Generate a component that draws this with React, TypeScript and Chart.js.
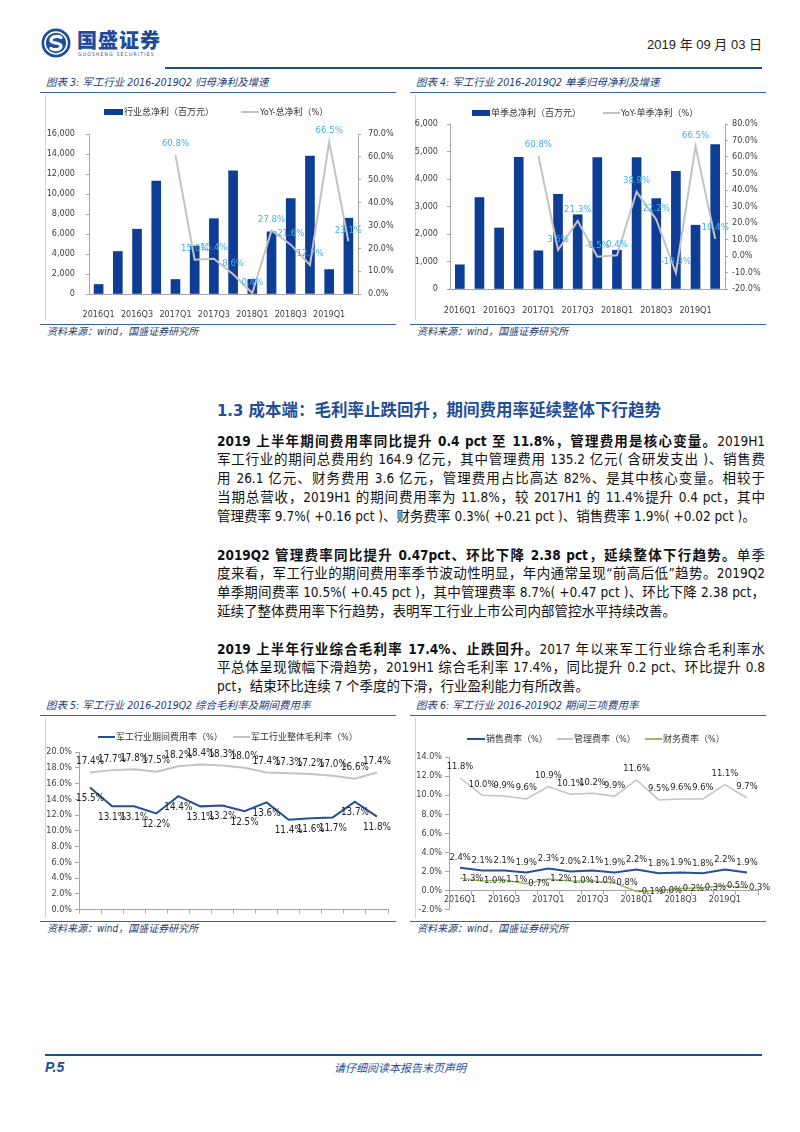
import React, { useEffect, useRef } from 'react';
import { Chart, registerables } from 'chart.js';

Chart.register(...registerables);

// ---------------- data ----------------
const quarters = ['2016Q1', '2016Q2', '2016Q3', '2016Q4', '2017Q1', '2017Q2', '2017Q3', '2017Q4', '2018Q1', '2018Q2', '2018Q3', '2018Q4', '2019Q1', '2019Q2'];

// 图表3 行业总净利（百万元，累计）与 YoY
const cumProfit = [950, 4250, 6480, 11280, 1450, 4800, 7530, 12320, 1460, 6220, 9540, 13780, 2440, 7580];
const cumProfitYoY = [null, null, null, null, 60.8, 15.0, 15.4, 8.6, 0.4, 27.8, 21.6, 12.7, 66.5, 23.1];

// 图表4 单季总净利（百万元）与 YoY
const qProfit = [880, 3320, 2220, 4790, 1390, 3440, 2700, 4780, 1410, 4780, 3290, 4280, 2320, 5250];
const qProfitYoY = [null, null, null, null, 60.8, 3.6, 21.3, -0.5, 0.4, 38.9, 22.2, -10.3, 66.5, 10.4];

// 图表5 期间费用率 / 整体毛利率 (%)
const expenseRate = [15.5, 13.1, 13.1, 12.2, 14.4, 13.1, 13.2, 12.5, 13.6, 11.4, 11.6, 11.7, 13.7, 11.8];
const grossMargin = [17.4, 17.7, 17.8, 17.5, 18.2, 18.4, 18.3, 18.0, 17.4, 17.3, 17.2, 17.0, 16.6, 17.4];

// 图表6 三项费用率 (%)
const sellingRate = [2.4, 2.1, 2.1, 1.9, 2.3, 2.0, 2.1, 1.9, 2.2, 1.8, 1.9, 1.8, 2.2, 1.9];
const adminRate = [11.8, 10.0, 9.9, 9.6, 10.9, 10.1, 10.2, 9.9, 11.6, 9.5, 9.6, 9.6, 11.1, 9.7];
const financeRate = [1.3, 1.0, 1.1, 0.7, 1.2, 1.0, 1.0, 0.8, -0.1, 0.0, 0.2, 0.3, 0.5, 0.3];

// ---------------- styles ----------------
const NUM = "'DejaVu Sans Condensed', 'Liberation Sans', 'Noto Sans CJK SC', sans-serif";
const CJK = "'Noto Sans CJK SC', sans-serif";
const BODY = "'DejaVu Sans Condensed', 'Liberation Sans', 'Noto Sans CJK SC', sans-serif";
const AXIS = '#a6a6a6';
const TXT = '#404040';
const NAVY = '#1f4e99';
const BAR = '#0e3d96';
const GRAY_LINE = '#c3c3c3';
const DARK_LINE = '#254f97';
const GREEN_LINE = '#9bbb59';
const CYAN = '#3fb2e8';

const tickFont = { family: NUM, size: 9 };
const pct1 = (v: any) => Number(v).toFixed(1) + '%';
const everyOther = (_v: any, i: number) => (i % 2 === 0 ? quarters[i] : '');

const valueLabelPlugin = {
  id: 'valueLabels',
  afterDatasetsDraw(chart: any) {
    const ctx = chart.ctx;
    chart.data.datasets.forEach((ds: any, di: number) => {
      const cfg = ds.valueLabel;
      if (!cfg) return;
      const meta = chart.getDatasetMeta(di);
      meta.data.forEach((el: any, i: number) => {
        const v = ds.data[i];
        if (v === null || v === undefined) return;
        ctx.save();
        ctx.font = `${cfg.size}px ${NUM}`;
        ctx.fillStyle = cfg.color;
        ctx.textBaseline = 'middle';
        let x = el.x;
        let y = el.y;
        if (cfg.pos === 'above') { ctx.textAlign = 'center'; y -= cfg.offset; }
        else if (cfg.pos === 'below') { ctx.textAlign = 'center'; y += cfg.offset; }
        else { ctx.textAlign = 'left'; x += cfg.offset; }
        ctx.fillText(pct1(v), x, y);
        ctx.restore();
      });
    });
  },
};

const fixW = (w: number) => (s: any) => { s.width = w; };
const fixH = (h: number) => (s: any) => { s.height = h; };

function yAxis(position: string, min: number, max: number, step: number, width: number, pad: number, fmt: (v: any) => string) {
  return {
    position, min, max,
    ticks: { stepSize: step, padding: pad, color: TXT, font: tickFont, callback: fmt },
    grid: { drawOnChartArea: false, tickLength: 3, tickColor: AXIS },
    border: { display: true, color: AXIS },
    afterFit: fixW(width),
  };
}

function barLineConfig(bars: number[], yoy: (number | null)[], barLabel: string, lineLabel: string, geo: any) {
  return {
    type: 'bar',
    data: {
      labels: quarters,
      datasets: [
        { type: 'line', label: lineLabel, data: yoy, yAxisID: 'y1', borderColor: GRAY_LINE, borderWidth: 2, pointRadius: 0, tension: 0, order: 0,
          valueLabel: { color: CYAN, size: 9.5, pos: 'above', offset: 11 } },
        { type: 'bar', label: barLabel, data: bars, yAxisID: 'y', backgroundColor: BAR, barThickness: 9, order: 1 },
      ],
    },
    options: {
      animation: false, responsive: false, maintainAspectRatio: false,
      layout: { padding: { top: geo.top, left: 0, right: 0, bottom: 0 } },
      plugins: { legend: { display: false }, tooltip: { enabled: false } },
      scales: {
        x: { grid: { display: false }, border: { display: true, color: AXIS },
          ticks: { autoSkip: false, maxRotation: 0, padding: geo.xPad, color: TXT, font: tickFont, callback: everyOther },
          afterFit: fixH(geo.xH) },
        y: yAxis('left', 0, geo.lMax, geo.lStep, geo.lW, geo.lPad, (v: any) => Number(v).toLocaleString('en-US')),
        y1: yAxis('right', geo.rMin, geo.rMax, 10, geo.rW, geo.rPad, pct1),
      },
    },
    plugins: [valueLabelPlugin],
  };
}

function chart3Config() {
  return barLineConfig(cumProfit, cumProfitYoY, '行业总净利（百万元）', 'YoY-总净利（%）',
    { top: 39, xPad: 7, xH: 26, lMax: 16000, lStep: 2000, lW: 44, lPad: 11, rMin: 0, rMax: 70, rW: 42, rPad: 7 });
}

function chart4Config() {
  return barLineConfig(qProfit, qProfitYoY, '单季总净利（百万元）', 'YoY-单季净利（%）',
    { top: 29, xPad: 8, xH: 31, lMax: 6000, lStep: 1000, lW: 35, lPad: 9, rMin: -20, rMax: 80, rW: 45, rPad: 4 });
}

function chart5Config() {
  return {
    type: 'line',
    data: {
      labels: quarters,
      datasets: [
        { label: '军工行业期间费用率（%）', data: expenseRate, borderColor: DARK_LINE, borderWidth: 2, pointRadius: 0, tension: 0,
          valueLabel: { color: '#222', size: 9.8, pos: 'below', offset: 11 } },
        { label: '军工行业整体毛利率（%）', data: grossMargin, borderColor: GRAY_LINE, borderWidth: 2, pointRadius: 0, tension: 0,
          valueLabel: { color: '#222', size: 9.8, pos: 'above', offset: 11 } },
      ],
    },
    options: {
      animation: false, responsive: false, maintainAspectRatio: false,
      layout: { padding: { top: 30, left: 0, right: 12, bottom: 0 } },
      plugins: { legend: { display: false }, tooltip: { enabled: false } },
      scales: {
        x: { offset: true, grid: { offset: true, drawOnChartArea: false, tickLength: 4, tickColor: AXIS },
          border: { display: true, color: AXIS },
          ticks: { autoSkip: false, display: true, callback: () => '' , font: tickFont },
          afterFit: fixH(8) },
        y: { ...yAxis('left', 0, 20, 2, 34, 3, pct1), grid: { drawOnChartArea: false, tickLength: 4, tickColor: AXIS } },
      },
    },
    plugins: [valueLabelPlugin],
  };
}

function chart6Config() {
  return {
    type: 'line',
    data: {
      labels: quarters,
      datasets: [
        { label: '销售费率（%）', data: sellingRate, borderColor: DARK_LINE, borderWidth: 2, pointRadius: 0, tension: 0,
          valueLabel: { color: '#222', size: 9.3, pos: 'above', offset: 10 } },
        { label: '管理费率（%）', data: adminRate, borderColor: GRAY_LINE, borderWidth: 1.5, pointRadius: 0, tension: 0,
          valueLabel: { color: '#222', size: 9.3, pos: 'above', offset: 11 } },
        { label: '财务费率（%）', data: financeRate, borderColor: GREEN_LINE, borderWidth: 1.5, pointRadius: 0, tension: 0,
          valueLabel: { color: '#222', size: 9.3, pos: 'right', offset: 2 } },
      ],
    },
    options: {
      animation: false, responsive: false, maintainAspectRatio: false,
      layout: { padding: { top: 35, left: 0, right: 12, bottom: 4 } },
      plugins: { legend: { display: false }, tooltip: { enabled: false } },
      scales: {
        x: { position: { y: 0 }, offset: true,
          grid: { offset: true, drawOnChartArea: false, tickLength: 4, tickColor: AXIS },
          border: { display: true, color: AXIS },
          ticks: { autoSkip: false, maxRotation: 0, padding: 0, color: TXT, font: tickFont, callback: everyOther },
          afterFit: fixH(0) },
        y: { ...yAxis('left', -2, 14, 2, 34, 3, pct1), grid: { drawOnChartArea: false, tickLength: 4, tickColor: AXIS } },
      },
    },
    plugins: [valueLabelPlugin],
  };
}

// ---------------- components ----------------
function ChartCanvas({ left, top, width, height, build }: any) {
  const ref = useRef<HTMLCanvasElement>(null);
  useEffect(() => {
    const chart = new Chart(ref.current as HTMLCanvasElement, build());
    return () => chart.destroy();
  }, []);
  return <canvas ref={ref} width={width} height={height} style={{ position: 'absolute', left, top, width, height }} />;
}

function Abs({ left, top, children, style }: any) {
  return <div style={{ position: 'absolute', left, top, whiteSpace: 'nowrap', ...style }}>{children}</div>;
}

function LegendItem({ left, cy, kind, color, text, swatchW }: any) {
  const h = kind === 'box' ? 6 : 2;
  return (
    <>
      <div style={{ position: 'absolute', left, top: cy - h / 2, width: swatchW, height: h, background: color }} />
      <div style={{ position: 'absolute', left: left + swatchW + 1, top: cy - 7, height: 14, lineHeight: '14px', fontFamily: NUM, fontSize: 9, color: '#333', whiteSpace: 'nowrap' }}>{text}</div>
    </>
  );
}

function Frame({ x, titleY, title, lineY, chartTop, chartBottom, srcLineY, srcY }: any) {
  return (
    <>
      <Abs left={x + 1} top={titleY - 8} style={{ fontFamily: NUM, fontStyle: 'italic', fontSize: 10.5, lineHeight: '16px', color: '#1e3a78' }}>{title}</Abs>
      <div style={{ position: 'absolute', left: x - 5, top: lineY, width: 356, height: 1.5, background: '#3b5ea6' }} />
      <div style={{ position: 'absolute', left: x, top: chartTop, width: 1, height: chartBottom - chartTop, background: '#d0d0d0' }} />
      <div style={{ position: 'absolute', left: x - 5, top: srcLineY, width: 356, height: 1.5, background: '#3b5ea6' }} />
      <Abs left={x + 2} top={srcY - 8} style={{ fontFamily: NUM, fontStyle: 'italic', fontSize: 10, lineHeight: '16px', color: '#2b3a67' }}>资料来源：wind，国盛证券研究所</Abs>
    </>
  );
}

type Seg = [string, boolean];
const para1: Seg[][] = [
  [['2019 上半年期间费用率同比提升 0.4 pct 至 11.8%，管理费用是核心变量。', true], ['2019H1', false]],
  [['军工行业的期间总费用约 164.9 亿元，其中管理费用 135.2 亿元( 含研发支出 )、销售费', false]],
  [['用 26.1 亿元、财务费用 3.6 亿元，管理费用占比高达 82%、是其中核心变量。相较于', false]],
  [['当期总营收，2019H1 的期间费用率为 11.8%，较 2017H1 的 11.4%提升 0.4 pct，其中', false]],
  [['管理费率 9.7%( +0.16 pct )、财务费率 0.3%( +0.21 pct )、销售费率 1.9%( +0.02 pct )。', false]],
];
const para2: Seg[][] = [
  [['2019Q2 管理费率同比提升 0.47pct、环比下降 2.38 pct，延续整体下行趋势。', true], ['单季', false]],
  [['度来看，军工行业的期间费用率季节波动性明显，年内通常呈现“前高后低”趋势。2019Q2', false]],
  [['单季期间费率 10.5%( +0.45 pct )，其中管理费率 8.7%( +0.47 pct )、环比下降 2.38 pct，', false]],
  [['延续了整体费用率下行趋势，表明军工行业上市公司内部管控水平持续改善。', false]],
];
const para3: Seg[][] = [
  [['2019 上半年行业综合毛利率 17.4%、止跌回升。', true], ['2017 年以来军工行业综合毛利率水', false]],
  [['平总体呈现微幅下滑趋势，2019H1 综合毛利率 17.4%，同比提升 0.2 pct、环比提升 0.8', false]],
  [['pct，结束环比连续 7 个季度的下滑，行业盈利能力有所改善。', false]],
];

const LH = 18.8;
function Paragraph({ lines, top }: { lines: Seg[][]; top: number }) {
  return (
    <>
      {lines.map((segs, i) => (
        <div key={i} style={{
          position: 'absolute', left: 217, top: top + i * LH, width: 548, height: LH, lineHeight: LH + 'px',
          fontFamily: BODY, fontSize: 13.5, color: '#111', textAlign: 'justify',
          textAlignLast: i === lines.length - 1 ? 'left' : 'justify',
        } as any}>
          {segs.map(([t, b], j) => <span key={j} style={{ fontWeight: b ? 700 : 400 }}>{t}</span>)}
        </div>
      ))}
    </>
  );
}

export default function App() {
  return (
    <div style={{ position: 'absolute', left: 0, top: 0, width: 800, height: 1132, background: '#fff', overflow: 'hidden' }}>
      {/* header */}
      <svg style={{ position: 'absolute', left: 41, top: 28 }} width={30} height={30} viewBox="0 0 30 30">
        <circle cx={15} cy={15} r={14.5} fill="#1d4f9c" />
        <circle cx={15} cy={15} r={11} fill="none" stroke="#fff" strokeWidth={1.6} />
        <path d="M20 9.5 C17 7.5 10 8 10 12.5 C10 16 20 14 20 18 C20 22 13 22.5 10 20.5" fill="none" stroke="#fff" strokeWidth={3.2} strokeLinecap="round" />
      </svg>
      <Abs left={77} top={28} style={{ fontFamily: CJK, fontWeight: 900, fontSize: 20, lineHeight: '24px', color: '#1d4c9a', letterSpacing: 1 }}>国盛证券</Abs>
      <Abs left={78} top={51} style={{ fontFamily: NUM, fontSize: 5, lineHeight: '6px', color: '#1d4c9a', letterSpacing: 1.2 }}>GUOSHENG SECURITIES</Abs>
      <Abs left={560} top={37} style={{ width: 202, textAlign: 'right', fontFamily: "'Liberation Sans', 'Noto Sans CJK SC', sans-serif", fontSize: 13, lineHeight: '16px', color: '#222' }}>2019 年 09 月 03 日</Abs>
      <div style={{ position: 'absolute', left: 165, top: 67, width: 597, height: 2, background: NAVY }} />

      {/* top charts */}
      <Frame x={45} titleY={82} title="图表 3: 军工行业 2016-2019Q2 归母净利及增速" lineY={91.5} chartTop={95} chartBottom={320} srcLineY={323.5} srcY={332} />
      <Frame x={415} titleY={82} title="图表 4: 军工行业 2016-2019Q2 单季归母净利及增速" lineY={91.5} chartTop={95} chartBottom={320} srcLineY={323.5} srcY={332} />
      <ChartCanvas left={45} top={95} width={355} height={225} build={chart3Config} />
      <ChartCanvas left={415} top={95} width={355} height={225} build={chart4Config} />
      <LegendItem left={104} cy={112} kind="box" color={BAR} swatchW={19} text="行业总净利（百万元）" />
      <LegendItem left={241} cy={112} kind="line" color={GRAY_LINE} swatchW={18} text="YoY-总净利（%）" />
      <LegendItem left={472} cy={113} kind="box" color={BAR} swatchW={18} text="单季总净利（百万元）" />
      <LegendItem left={603} cy={113} kind="line" color={GRAY_LINE} swatchW={17} text="YoY-单季净利（%）" />

      {/* text */}
      <Abs left={217} top={400} style={{ fontFamily: BODY, fontWeight: 700, fontSize: 16.5, lineHeight: '22px', color: NAVY }}>1.3 成本端：毛利率止跌回升，期间费用率延续整体下行趋势</Abs>
      <Paragraph lines={para1} top={431.6} />
      <Paragraph lines={para2} top={545.6} />
      <Paragraph lines={para3} top={639.6} />

      {/* bottom charts */}
      <Frame x={45} titleY={705} title="图表 5: 军工行业 2016-2019Q2 综合毛利率及期间费用率" lineY={714.5} chartTop={718} chartBottom={918} srcLineY={920.5} srcY={929} />
      <Frame x={415} titleY={705} title="图表 6: 军工行业 2016-2019Q2 期间三项费用率" lineY={714.5} chartTop={718} chartBottom={918} srcLineY={920.5} srcY={929} />
      <ChartCanvas left={45} top={722} width={355} height={196} build={chart5Config} />
      <ChartCanvas left={415} top={722} width={355} height={196} build={chart6Config} />
      <LegendItem left={98} cy={737} kind="line" color={DARK_LINE} swatchW={17} text="军工行业期间费用率（%）" />
      <LegendItem left={233} cy={737} kind="line" color={GRAY_LINE} swatchW={17} text="军工行业整体毛利率（%）" />
      <LegendItem left={467} cy={739} kind="line" color={DARK_LINE} swatchW={18} text="销售费率（%）" />
      <LegendItem left={557} cy={739} kind="line" color={GRAY_LINE} swatchW={16} text="管理费率（%）" />
      <LegendItem left={645} cy={739} kind="line" color={GREEN_LINE} swatchW={17} text="财务费率（%）" />

      {/* footer */}
      <div style={{ position: 'absolute', left: 45, top: 1054, width: 717, height: 2, background: NAVY }} />
      <Abs left={45} top={1059} style={{ fontFamily: "'Liberation Sans', sans-serif", fontWeight: 700, fontStyle: 'italic', fontSize: 14, lineHeight: '16px', color: NAVY }}>P.5</Abs>
      <Abs left={300} top={1059} style={{ width: 200, textAlign: 'center', fontFamily: CJK, fontStyle: 'italic', fontSize: 11, lineHeight: '16px', color: NAVY }}>请仔细阅读本报告末页声明</Abs>
    </div>
  );
}
